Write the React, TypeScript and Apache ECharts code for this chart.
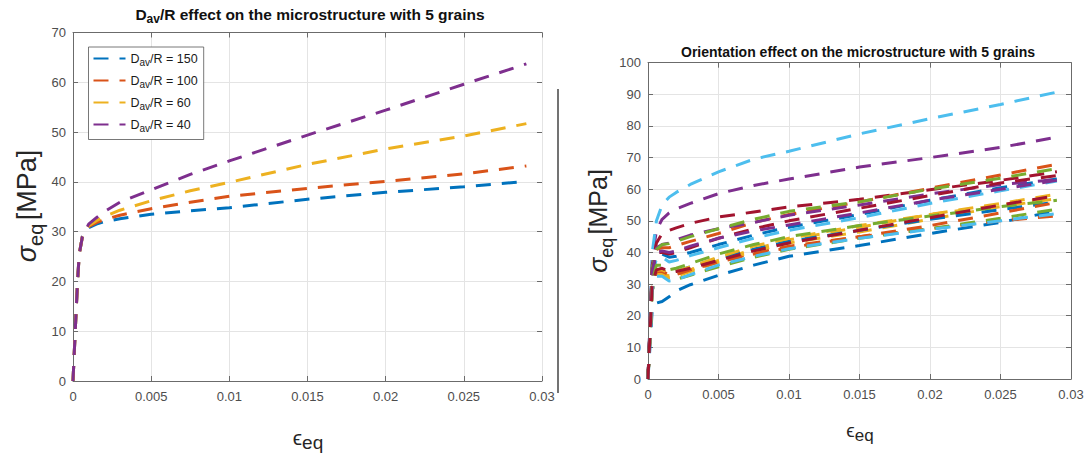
import React, { useEffect, useRef } from 'react';
import * as echarts from 'echarts';

// ---------- data ----------
const leftStrain = [0, 0.0001, 0.0002, 0.0003, 0.0004, 0.0006, 0.001, 0.0015, 0.002, 0.003, 0.005, 0.0075, 0.01, 0.015, 0.02, 0.025, 0.029];
const leftNames = ['Dav/R = 150', 'Dav/R = 100', 'Dav/R = 60', 'Dav/R = 40'];
const stressR150 = [0, 7, 14, 20.5, 25.5, 29, 30.8, 31.5, 32, 32.6, 33.5, 34.2, 34.8, 36.5, 37.9, 39, 40.1];
const stressR100 = [0, 7, 14, 20.5, 25.5, 29, 31, 31.8, 32.4, 33.3, 34.6, 35.9, 37.1, 38.7, 40.1, 41.6, 43.2];
const stressR60 = [0, 7, 14, 20.5, 25.5, 29, 31.2, 32.2, 33, 34.3, 36.2, 38.2, 39.9, 43.5, 46.6, 49.2, 51.7];
const stressR40 = [0, 7, 14, 20.5, 25.5, 29, 31.5, 32.8, 34, 35.9, 38.4, 41.5, 44.2, 49.4, 54.4, 59.6, 63.7];

const rightStrain = [0, 0.0003, 0.0006, 0.001, 0.0015, 0.002, 0.003, 0.005, 0.0075, 0.01, 0.015, 0.02, 0.025, 0.029];
const orient01 = [0, 22, 24, 24.5, 26, 27.8, 29.8, 32.8, 36, 38.8, 42.2, 46, 49.5, 53.2];
const orient02 = [0, 29, 33.5, 33, 32.5, 33, 34.5, 37, 39.8, 42, 45, 47.5, 50, 51.6];
const orient03 = [0, 28, 33, 33.5, 32.5, 33, 34.5, 37.5, 41, 44, 48, 52, 55.5, 58.4];
const orient04 = [0, 38, 47, 50.5, 52.5, 53.8, 55.5, 58.6, 61.2, 63.2, 67, 70, 73.2, 76.5];
const orient05 = [0, 28, 33, 33, 31.5, 31.5, 32.8, 35.5, 38.5, 41, 44.5, 47.5, 50.8, 53.7];
const orient06 = [0, 40, 50, 55, 57.5, 59, 61.5, 65.5, 69.5, 72, 77.5, 82.3, 86.8, 90.7];
const orient07 = [0, 36, 43, 46, 47, 47.8, 49.2, 51.2, 52.8, 54.4, 56.8, 59.8, 62.8, 65.5];
const orient08 = [0, 33, 39, 39.5, 38.5, 38.8, 40, 42.5, 45.5, 48, 52, 56.5, 60.5, 63.2];
const orient09 = [0, 35, 41, 41.5, 41.5, 42.2, 43.5, 46, 49.5, 52, 56, 60.3, 64.5, 67.9];
const orient10 = [0, 28, 33, 33, 32, 32.5, 34, 37, 40.5, 43, 46.5, 50.5, 54.5, 57];
const orient11 = [0, 35, 41.5, 42.5, 43, 44, 45.5, 47.5, 49.5, 51.8, 55, 58.5, 61.5, 63];
const orient12 = [0, 35, 41, 42.5, 42.8, 43.5, 45, 47.5, 50.5, 53, 56, 60, 63.5, 66.5];
const orient13 = [0, 33, 38, 38.5, 37, 37.5, 39, 41.5, 44.5, 47, 51, 55.5, 59.5, 62.6];
const orient14 = [0, 34, 40, 40, 39.5, 40, 41.5, 44.5, 47.5, 50, 54, 58, 62, 64.3];
const orient15 = [0, 30, 34.5, 34.5, 33.5, 34, 35.5, 38, 41, 43.5, 47, 50.5, 53.5, 56];
const orient16 = [0, 29, 34, 34, 33, 33, 34.5, 37, 39.5, 41.5, 45, 48.5, 52.5, 55.8];
const orient17 = [0, 30, 34.5, 34.5, 33.5, 34, 35.5, 38.5, 42, 44.5, 48.5, 52, 55, 57.5];
const orient18 = [0, 34, 40, 40.5, 40, 40.5, 42, 44.5, 46.8, 48.7, 52.5, 56.5, 60, 62.8];
const orient19 = [0, 31, 36, 36, 34.5, 35, 36.5, 39.5, 42.5, 45, 48.5, 51.5, 54.5, 56.5];
const orient20 = [0, 28, 32.5, 32.5, 31, 31.3, 33, 36, 38.8, 41.2, 44.5, 47.3, 50, 52.3];
const orient21 = [0, 30, 34.5, 35, 34, 34, 35, 37.5, 40.5, 43, 47, 51, 55, 58];

const xTicks = [0, 0.005, 0.01, 0.015, 0.02, 0.025, 0.03];
const leftYMax = 70;
const rightYMax = 100;

const COLORS = ['#0072BD', '#D95319', '#EDB120', '#7E2F8E', '#77AC30', '#4DBEEE', '#A2142F'];
const FONT = "Arial, 'Liberation Sans', Helvetica, sans-serif";
const AX = '#6b6b6b';
const GRID = '#e4e4e4';
const DASH = [15, 11];

const pairs = (xs: number[], ys: number[]) => xs.map((x, i) => [x, ys[i]]);

const fmtX = (v: number) => (v === 0 ? '0' : String(parseFloat(v.toFixed(4))));

function axesFor(gridIndex: number, yMax: number, rightLine: boolean) {
  const xb = {
    gridIndex, type: 'value', min: xTicks[0], max: xTicks[xTicks.length - 1], interval: 0.005, position: 'bottom',
    axisLine: { show: true, onZero: false, lineStyle: { color: AX, width: 1 } },
    axisTick: { show: true, inside: true, length: 5, lineStyle: { color: AX } },
    axisLabel: { color: '#4d4d4d', fontSize: 13, fontFamily: FONT, margin: 9, formatter: fmtX },
    splitLine: { show: true, lineStyle: { color: GRID, width: 1 } },
  };
  const xt = {
    gridIndex, type: 'value', min: xTicks[0], max: xTicks[xTicks.length - 1], interval: 0.005, position: 'top',
    axisLine: { show: true, onZero: false, lineStyle: { color: AX, width: 1 } },
    axisTick: { show: true, inside: true, length: 5, lineStyle: { color: AX } },
    axisLabel: { show: false }, splitLine: { show: false },
  };
  const yl = {
    gridIndex, type: 'value', min: 0, max: yMax, interval: 10, position: 'left',
    axisLine: { show: true, onZero: false, lineStyle: { color: AX, width: 1 } },
    axisTick: { show: true, inside: true, length: 5, lineStyle: { color: AX } },
    axisLabel: { color: '#4d4d4d', fontSize: 13, fontFamily: FONT, margin: 7 },
    splitLine: { show: true, lineStyle: { color: GRID, width: 1 } },
  };
  const yr = {
    gridIndex, type: 'value', min: 0, max: yMax, interval: 10, position: 'right',
    axisLine: { show: rightLine, onZero: false, lineStyle: { color: AX, width: 1 } },
    axisTick: { show: true, inside: true, length: 5, lineStyle: { color: AX } },
    axisLabel: { show: false }, splitLine: { show: false },
  };
  return { x: [xb, xt], y: [yl, yr] };
}

export default function App() {
  const ref = useRef<HTMLDivElement>(null);
  useEffect(() => {
    if (!ref.current) return;
    const chart = echarts.init(ref.current, null, { renderer: 'svg' });
    const a0 = axesFor(0, leftYMax, false);
    const a1 = axesFor(1, rightYMax, true);

    const leftSeries = [stressR150, stressR100, stressR60, stressR40].map((ys, i) => ({
      name: leftNames[i], type: 'line', xAxisIndex: 0, yAxisIndex: 0,
      data: pairs(leftStrain, ys), symbol: 'none', showSymbol: false,
      lineStyle: { color: COLORS[i], width: 3, type: DASH, cap: 'butt' },
      itemStyle: { color: COLORS[i] },
    }));
    const rightSets = [orient01, orient02, orient03, orient04, orient05, orient06, orient07,
      orient08, orient09, orient10, orient11, orient12, orient13, orient14,
      orient15, orient16, orient17, orient18, orient19, orient20, orient21];
    const rightSeries = rightSets.map((ys, i) => ({
      name: 'orient' + (i + 1), type: 'line', xAxisIndex: 2, yAxisIndex: 2,
      data: pairs(rightStrain, ys), symbol: 'none', showSymbol: false,
      lineStyle: { color: COLORS[i % 7], width: 3, type: DASH, cap: 'butt' },
      itemStyle: { color: COLORS[i % 7] },
    }));

    const legendRich = {
      m: { fontSize: 12.5, fontFamily: FONT, color: '#1a1a1a', lineHeight: 18 },
      s: { fontSize: 10, fontFamily: FONT, color: '#1a1a1a', lineHeight: 8, verticalAlign: 'bottom' },
    };

    chart.setOption({
      animation: false,
      grid: [
        { left: 73, top: 32.5, width: 469, height: 348.5 },
        { left: 648, top: 62.7, width: 423, height: 316.3 },
      ],
      xAxis: [...a0.x, ...a1.x],
      yAxis: [...a0.y, ...a1.y],
      legend: {
        data: leftNames, orient: 'vertical', left: 88.5, top: 47,
        padding: [5, 6, 6, 4], itemWidth: 32, itemHeight: 14, itemGap: 6.5,
        backgroundColor: '#fff', borderColor: '#555', borderWidth: 0.8,
        itemStyle: { opacity: 0 },
        textStyle: { fontFamily: FONT, fontSize: 12.5, color: '#1a1a1a', rich: legendRich },
        formatter: (name: string) => '{m|D}{s|av}{m|' + name.slice(3) + '}',
      },
      series: [...leftSeries, ...rightSeries],
      graphic: [
        {
          type: 'text', x: 310, y: 14,
          style: {
            text: '{b|D}{s|av}{b|/R effect on the microstructure with 5 grains}',
            align: 'center', verticalAlign: 'middle',
            rich: {
              b: { fontSize: 15.5, fontWeight: 'bold', fontFamily: FONT, fill: '#111', lineHeight: 22 },
              s: { fontSize: 12, fontWeight: 'bold', fontFamily: FONT, fill: '#111', lineHeight: 8, verticalAlign: 'bottom' },
            },
          },
        },
        {
          type: 'text', x: 858, y: 52,
          style: {
            text: 'Orientation effect on the microstructure with 5 grains',
            align: 'center', verticalAlign: 'middle',
            fontSize: 14, fontWeight: 'bold', fontFamily: FONT, fill: '#111',
          },
        },
        {
          type: 'text', x: 27, y: 206, rotation: Math.PI / 2,
          style: {
            text: '{g|σ}{e|eq} {m|[MPa]}', align: 'center', verticalAlign: 'middle',
            rich: {
              g: { fontSize: 27, fontStyle: 'italic', fontFamily: FONT, fill: '#262626', lineHeight: 38 },
              e: { fontSize: 20, fontFamily: FONT, fill: '#262626', lineHeight: 8, verticalAlign: 'bottom' },
              m: { fontSize: 27, fontFamily: FONT, fill: '#262626', lineHeight: 38 },
            },
          },
        },
        {
          type: 'text', x: 598, y: 221, rotation: Math.PI / 2,
          style: {
            text: '{g|σ}{e|eq} {m|[MPa]}', align: 'center', verticalAlign: 'middle',
            rich: {
              g: { fontSize: 25, fontStyle: 'italic', fontFamily: FONT, fill: '#262626', lineHeight: 35 },
              e: { fontSize: 18, fontFamily: FONT, fill: '#262626', lineHeight: 8, verticalAlign: 'bottom' },
              m: { fontSize: 25, fontFamily: FONT, fill: '#262626', lineHeight: 35 },
            },
          },
        },
        {
          type: 'text', x: 308, y: 437,
          style: {
            text: '{g|ϵ}{e|eq}', align: 'center', verticalAlign: 'middle',
            rich: {
              g: { fontSize: 21, fontFamily: FONT, fill: '#262626', lineHeight: 30 },
              e: { fontSize: 19, fontFamily: FONT, fill: '#262626', lineHeight: 8, verticalAlign: 'bottom' },
            },
          },
        },
        {
          type: 'text', x: 860, y: 430,
          style: {
            text: '{g|ϵ}{e|eq}', align: 'center', verticalAlign: 'middle',
            rich: {
              g: { fontSize: 19, fontFamily: FONT, fill: '#262626', lineHeight: 27 },
              e: { fontSize: 17, fontFamily: FONT, fill: '#262626', lineHeight: 8, verticalAlign: 'bottom' },
            },
          },
        },
        {
          type: 'line', shape: { x1: 558, y1: 89, x2: 558, y2: 393 },
          style: { stroke: '#444', lineWidth: 1.5 },
        },
      ],
    });
    return () => chart.dispose();
  }, []);
  return <div ref={ref} style={{ position: 'fixed', left: 0, top: 0, width: 1088, height: 453, background: '#fff' }} />;
}
